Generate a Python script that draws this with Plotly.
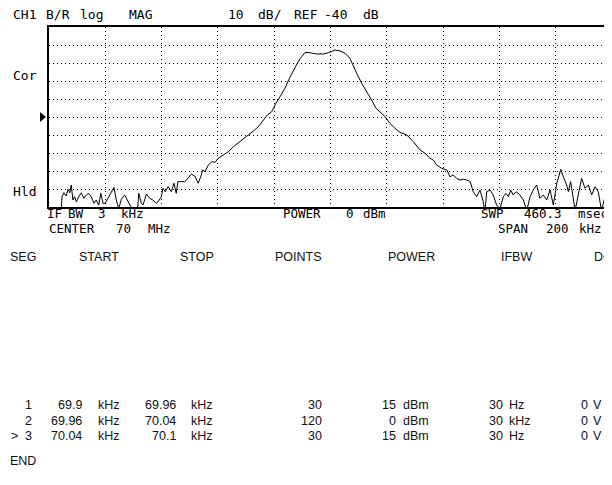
import plotly.graph_objects as go

# trace: offset from 70 MHz centre (kHz) and magnitude (dB)
offset_khz = [-100.0, -97.9, -95.6, -95.4, -94.7, -93.9, -93.25, -92.6, -92.1, -91.5,
              -90.9, -90.3, -89.45, -88.5, -87.6, -86.75, -85.9, -85.0, -84.0, -83.2,
              -82.35, -81.6, -80.8, -80.0, -78.4, -76.9, -76.1, -75.25, -74.3, -73.1,
              -72.2, -71.3, -70.2, -68.6, -68.1, -67.2, -66.6, -65.4, -64.2, -63.1,
              -61.9, -61.3, -60.1, -59.5, -58.7, -57.7, -56.55, -55.6, -54.8, -54.2,
              -53.0, -51.8, -50.6, -49.45, -48.2, -47.8, -47.0, -46.1, -45.4, -44.6,
              -44.0, -43.4, -42.2, -41.0, -39.9, -38.1, -36.3, -34.5, -32.15, -29.8,
              -27.4, -25.65, -23.9, -22.45, -20.9, -19.4, -17.9, -16.2, -14.6, -13.2,
              -11.8, -10.8, -10.2, -9.06, -7.3, -4.9, -2.56, -0.8, 1.6, 3.4,
              5.15, 6.9, 8.1, 9.3, 11.1, 12.9, 14.6, 16.2, 17.6, 19.4,
              21.1, 22.9, 24.7, 27.1, 29.4, 31.8, 33.6, 35.35, 36.5, 37.7,
              39.5, 41.3, 42.45, 43.6, 44.8, 46.0, 47.2, 48.4, 49.6, 50.7,
              51.9, 53.1, 54.1, 54.9, 55.5, 56.7, 57.8, 59.0, 60.2, 61.4,
              62.3, 63.2, 64.0, 64.9, 65.9, 67.3, 68.5, 69.7, 70.9, 72.0,
              73.25, 74.4, 75.6, 76.8, 78.0, 79.15, 80.4, 81.8, 82.7, 83.9,
              84.5, 85.3, 86.9, 88.0, 89.2, 90.4, 91.6, 92.8, 94.0, 95.1,
              96.3, 97.5, 98.7, 99.9]
mag_db = [-96, -96, -91, -84.3, -82.1, -83.9, -80.2, -82.1, -77.8, -86.1,
          -84.3, -87.1, -84.3, -82.1, -85.2, -83.3, -82.4, -84.3, -87.9, -86.1,
          -88.9, -82.4, -87.9, -87.9, -83.3, -79.1, -86.1, -91, -85.7, -83.3,
          -86.1, -88.9, -91, -92, -82.4, -87.9, -88.9, -82.8, -85.2, -86.1,
          -87.9, -87.1, -84.3, -79.6, -81.5, -78.7, -81.5, -76.8, -82.4, -75.9,
          -75.9, -75.9, -74.1, -71.7, -72.8, -74.1, -76.8, -73.2, -69.4, -70.4,
          -68.5, -66.7, -64.8, -65.2, -62.9, -61.1, -59.3, -56.5, -53.7, -50.9,
          -47.8, -45.4, -41.7, -38.9, -37.1, -32.4, -28.7, -24.1, -18.5, -13.9,
          -10.2, -7.4, -6.5, -4.1, -4.3, -5.0, -5.0, -4.3, -2.8, -3.3,
          -4.6, -7.4, -11.1, -15.7, -21.3, -25.9, -30.6, -35.2, -37.1, -39.8,
          -43.5, -46.3, -48.5, -50.0, -53.7, -58.3, -60.2, -62.9, -63.9, -66.7,
          -68.5, -69.4, -73.2, -72.2, -74.1, -75.0, -74.6, -75.0, -75.9, -81.5,
          -84.3, -80.6, -86.1, -92, -81.5, -80.6, -83.3, -88.9, -91, -84.3,
          -82.4, -84.3, -80.6, -83.3, -81.5, -83.3, -86.1, -92, -84.3, -80.6,
          -77.8, -85.2, -83.3, -86.1, -80.6, -88.9, -76.8, -69.1, -73.2, -77.8,
          -81.5, -75.9, -92, -82.4, -74.1, -79.6, -77.8, -83.3, -78.7, -81.5,
          -92, -84.3, -81.5, -79.6]

# segment table
seg_no = ["1", "2", "3"]
seg_start = ["69.9", "69.96", "70.04"]
seg_stop = ["69.96", "70.04", "70.1"]
seg_points = ["30", "120", "30"]
seg_power = ["15", "0", "15"]
seg_ifbw = ["30", "30", "30"]
seg_ifbw_unit = ["Hz", "kHz", "Hz"]
seg_dc = ["0", "0", "0"]
table_head = ["SEG", "START", "STOP", "POINTS", "POWER", "IFBW", "DC"]

# the page body has an 8px margin, so the figure sits 8px right/down
OFF = 8
L, T, W, H = 49 - OFF, 27 - OFF, 563, 180
MONO = dict(family="DejaVu Sans Mono", size=13, color="black")
MONO_S = dict(family="DejaVu Sans Mono", size=12.5, color="black")
SANS = dict(family="Liberation Sans, Arial", size=12.5, color="#111")

fig = go.Figure()
fig.add_trace(go.Scatter(x=offset_khz, y=mag_db, mode="lines",
                         line=dict(color="black", width=1), hoverinfo="skip"))


def label(x, y, text, font, anchor="left"):
    # x, y in page pixels
    fig.add_annotation(x=(x - OFF - L) / W, y=(T + H - (y - OFF)) / H,
                       xref="paper", yref="paper", text=text, showarrow=False,
                       xanchor=anchor, yanchor="middle", font=font, borderpad=0)


# screen annotations
for x, y, t in [(12, 14.5, "CH1"), (45, 14.5, "B/R"), (79, 14.5, "log"), (128, 14.5, "MAG"),
                (227, 14.5, "10"), (257, 14.5, "dB/"), (293, 14.5, "REF"), (323, 14.5, "-40"),
                (362, 14.5, "dB"), (12, 75.5, "Cor"), (12, 191, "Hld")]:
    label(x, y, t, MONO)
for x, y, t in [(46, 213.5, "IF"), (67, 213.5, "BW"), (97, 213.5, "3"), (120, 213.5, "kHz"),
                (48, 228.5, "CENTER"), (115, 228.5, "70"), (147, 228.5, "MHz"),
                (282, 213.5, "POWER"), (345, 213.5, "0"), (362, 213.5, "dBm"),
                (480, 213.5, "SWP"), (523, 213.5, "460.3"), (577, 213.5, "msec"),
                (497, 228.5, "SPAN"), (545, 228.5, "200"), (578, 228.5, "kHz")]:
    label(x, y, t, MONO_S)

# table
for x, t in zip([9, 78, 179, 274, 387, 500, 593], table_head):
    label(x, 257, t, SANS)
row_y = [405, 421, 436]
for i, y in enumerate(row_y):
    label(33, y, seg_no[i], SANS, "right")
    label(83, y, seg_start[i], SANS, "right")
    label(97, y, "kHz", SANS)
    label(177, y, seg_stop[i], SANS, "right")
    label(190, y, "kHz", SANS)
    label(323, y, seg_points[i], SANS, "right")
    label(397, y, seg_power[i], SANS, "right")
    label(402, y, "dBm", SANS)
    label(488, y, seg_ifbw[i], SANS)
    label(508, y, seg_ifbw_unit[i], SANS)
    label(580, y, seg_dc[i], SANS)
    label(592, y, "V", SANS)
label(10, row_y[2], ">", SANS)
label(9, 461, "END", SANS)

# reference-level marker
fig.add_shape(type="path", xref="paper", yref="y",
              path=f"M {(40 - 49) / W} -37.2 L {(46 - 49) / W} -40 L {(40 - 49) / W} -42.8 Z",
              fillcolor="black", line=dict(width=0))

fig.update_xaxes(range=[-100, 100], tick0=-100, dtick=20, showticklabels=False, ticks="",
                 showgrid=True, gridcolor="black", griddash="1px,3px", gridwidth=1,
                 zeroline=False, showline=True, linecolor="black", linewidth=1.5, mirror=True)
fig.update_yaxes(range=[-90, 10], tick0=-90, dtick=10, showticklabels=False, ticks="",
                 showgrid=True, gridcolor="black", griddash="1px,3px", gridwidth=1,
                 zeroline=False, showline=True, linecolor="black", linewidth=1.5)
fig.update_layout(width=612 - OFF, height=485 - OFF,
                  margin=dict(l=L, r=0, t=T, b=485 - OFF - T - H),
                  paper_bgcolor="white", plot_bgcolor="white", showlegend=False)

fig.write_html("out.html")
